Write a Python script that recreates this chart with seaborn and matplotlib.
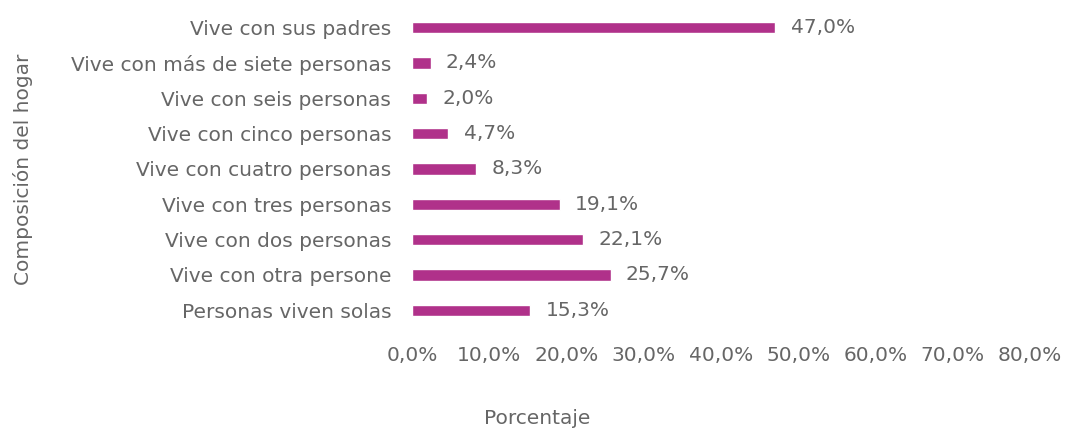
import numpy as np
import pandas as pd
import matplotlib.pyplot as plt
import seaborn as sns

categories = [
    "Vive con sus padres",
    "Vive con más de siete personas",
    "Vive con seis personas",
    "Vive con cinco personas",
    "Vive con cuatro personas",
    "Vive con tres personas",
    "Vive con dos personas",
    "Vive con otra persone",
    "Personas viven solas",
]
values = [47.0, 2.4, 2.0, 4.7, 8.3, 19.1, 22.1, 25.7, 15.3]
xticks = [0, 10, 20, 30, 40, 50, 60, 70, 80]

df = pd.DataFrame({"cat": categories, "pct": values})

sns.set_theme(style="white")
plt.rcParams["font.family"] = ["DejaVu Sans"]
gray = "#666666"
bar_color = "#b0318a"
fs = 14.5

fig = plt.figure(figsize=(10.65, 4.3), dpi=100)
ax = fig.add_axes([412 / 1065, 1 - 328 / 430, 618 / 1065, 318 / 430])

sns.barplot(data=df, y="cat", x="pct", orient="h", color=bar_color,
            width=0.32, saturation=1, ax=ax)

for i, v in enumerate(values):
    ax.text(v + 2.0, i, f"{v:.1f}%".replace(".", ","), va="center", ha="left",
            fontsize=fs, color=gray)

ax.set_xlim(0, 80)
ax.set_ylim(len(categories) - 0.5, -0.5)
ax.set_xticks(xticks)
ax.set_xticklabels([f"{t:.1f}%".replace(".", ",") for t in xticks],
                   fontsize=fs, color=gray)
ax.tick_params(axis="x", length=0, pad=13)
ax.tick_params(axis="y", length=0, pad=15, labelsize=fs, labelcolor=gray)
for s in ax.spines.values():
    s.set_visible(False)

ax.set_ylabel("Composición del hogar", fontsize=fs, color=gray, va="center")
ax.yaxis.set_label_coords(-(412 - 23) / 618, 0.5)
ax.set_xlabel("Porcentaje", fontsize=fs, color=gray, va="center")
ax.xaxis.set_label_coords((537 - 412) / 618, -(418 - 328) / 318)

fig.savefig("out.png", dpi=100, facecolor="white")
